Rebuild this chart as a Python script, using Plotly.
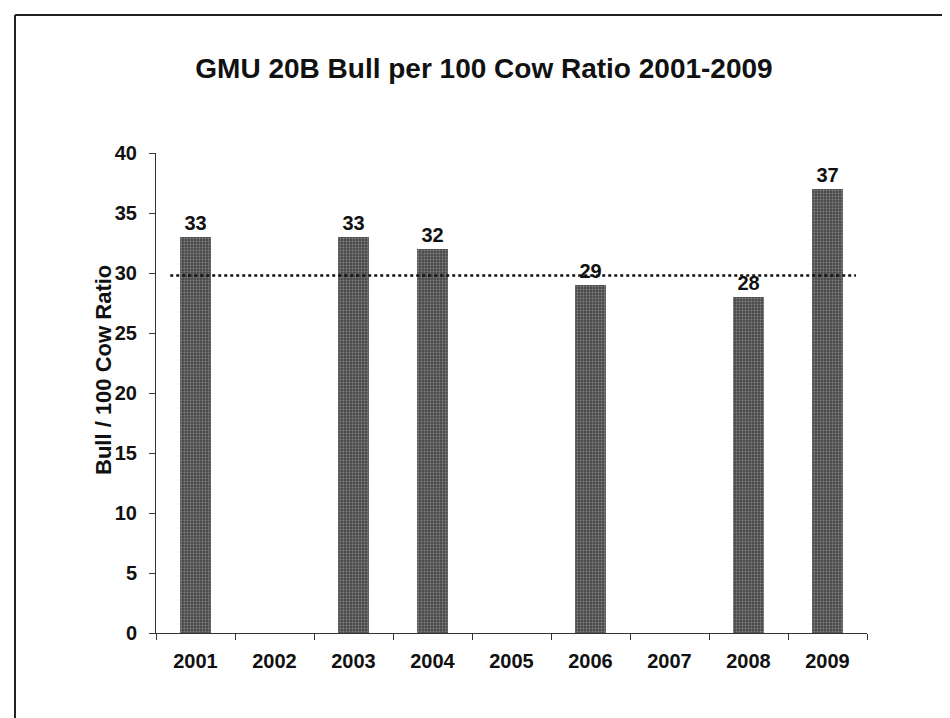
import plotly.graph_objects as go

years = ["2001", "2002", "2003", "2004", "2005", "2006", "2007", "2008", "2009"]
ratios = [33, None, 33, 32, None, 29, None, 28, 37]
labels = ["33", "", "33", "32", "", "29", "", "28", "37"]
reference_ratio = 29.8
y_ticks = [0, 5, 10, 15, 20, 25, 30, 35, 40]

title_text = "GMU 20B Bull per 100 Cow Ratio 2001-2009"
y_title = "Bull / 100 Cow Ratio"

L, R, T, B = 148, 91, 145, 93
W, H = 950, 718
pw, ph = W - L - R, H - T - B

def px_x(p):
    return (p - L) / pw

def px_y(p):
    return (H - B - p) / ph

FONT = "Liberation Sans, Arial, sans-serif"

fig = go.Figure()
fig.add_trace(go.Bar(
    x=years, y=ratios, text=labels, textposition="outside",
    textfont=dict(family=FONT, size=20, color="#111", weight="bold"),
    cliponaxis=False,
    width=0.39,
    marker=dict(
        color="#4a4a4a",
        line=dict(width=0),
        pattern=dict(shape=".", fgcolor="#bdbdbd", size=3, solidity=0.3, fillmode="overlay"),
    ),
    showlegend=False,
))

fig.add_shape(type="line", xref="x", yref="y", x0=-0.32, x1=8.36,
              y0=reference_ratio, y1=reference_ratio,
              line=dict(color="#111", width=2.5, dash="dot"), layer="above")

# outer frame
fig.add_shape(type="line", xref="paper", yref="paper",
              x0=px_x(7), x1=px_x(955), y0=px_y(7), y1=px_y(7),
              line=dict(color="#222", width=2))
fig.add_shape(type="line", xref="paper", yref="paper",
              x0=px_x(7), x1=px_x(7), y0=px_y(7), y1=px_y(725),
              line=dict(color="#222", width=2))

fig.add_annotation(text=y_title, xref="paper", yref="paper",
                   x=px_x(95), y=px_y(362), showarrow=False, textangle=-90,
                   xanchor="center", yanchor="middle",
                   font=dict(family=FONT, size=22, color="#111", weight="bold"))

fig.update_layout(
    width=W, height=H,
    margin=dict(l=L, r=R, t=T, b=B),
    paper_bgcolor="white", plot_bgcolor="white",
    title=dict(text=title_text, x=476 / W, xanchor="center",
               y=1 - 60 / H, yanchor="middle", yref="container",
               font=dict(family=FONT, size=28, color="#111", weight="bold")),
)
fig.update_xaxes(
    type="category", categoryorder="array", categoryarray=years,
    showline=True, linecolor="#333", linewidth=1,
    ticks="outside", tickson="boundaries", ticklen=6, tickcolor="#333",
    ticklabelstandoff=10,
    tickfont=dict(family=FONT, size=20, color="#111", weight="bold"),
    showgrid=False, zeroline=False,
)
fig.update_yaxes(
    range=[0, 40], tickvals=y_ticks,
    showline=True, linecolor="#333", linewidth=1,
    ticks="outside", ticklen=6, tickcolor="#333",
    ticklabelstandoff=8,
    tickfont=dict(family=FONT, size=20, color="#111", weight="bold"),
    showgrid=False, zeroline=False,
)

fig.write_html("out.html")
